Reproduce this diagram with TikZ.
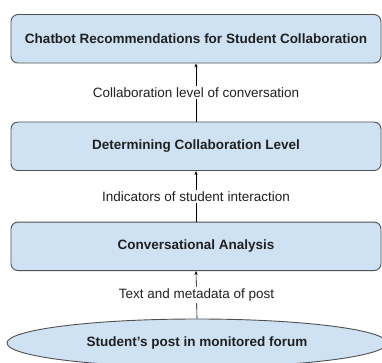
\documentclass[tikz,border=0pt]{standalone}
\usepackage{fontspec}
\setmainfont{Liberation Sans}
\usetikzlibrary{arrows.meta,shapes.geometric}
\definecolor{boxfill}{HTML}{CFE2F3}
\definecolor{boxline}{HTML}{505050}
\definecolor{txt}{HTML}{202020}
\tikzset{
  stage/.style={draw=boxline, line width=0.9pt, fill=boxfill, rounded corners=7pt,
    minimum width=370pt, minimum height=48.5pt, inner sep=0pt, anchor=center,
    font=\bfseries\fontsize{13.5}{15}\selectfont, text=txt},
  source/.style={ellipse, draw=boxline, line width=0.9pt, fill=boxfill,
    minimum width=380pt, minimum height=48pt, inner sep=0pt,
    font=\bfseries\fontsize{13.5}{15}\selectfont, text=txt},
  flow/.style={draw=black, line width=0.6pt, -{Stealth[length=4pt,width=3.2pt]}},
  lbl/.style={fill=white, inner sep=1.5pt, font=\fontsize{13.5}{15}\selectfont, text=txt}
}
\begin{document}
\begin{tikzpicture}[x=1pt,y=-1pt]
\useasboundingbox (0,0) rectangle (382,363);
\clip (0,0) rectangle (382,363);
\node[stage] (rec) at (196,38.8) {Chatbot Recommendations for Student Collaboration};
\node[stage] (lvl) at (196,146.3) {Determining Collaboration Level};
\node[stage] (ana) at (196,246.3) {Conversational Analysis};
\node[source] (post) at (197,343) {Student’s post in monitored forum};
\draw[flow] (lvl.north) -- node[lbl]{Collaboration level of conversation} (rec.south);
\draw[flow] (ana.north) -- node[lbl]{Indicators of student interaction} (lvl.south);
\draw[flow] (post.north) -- node[lbl]{Text and metadata of post} (ana.south);
\end{tikzpicture}
\end{document}
